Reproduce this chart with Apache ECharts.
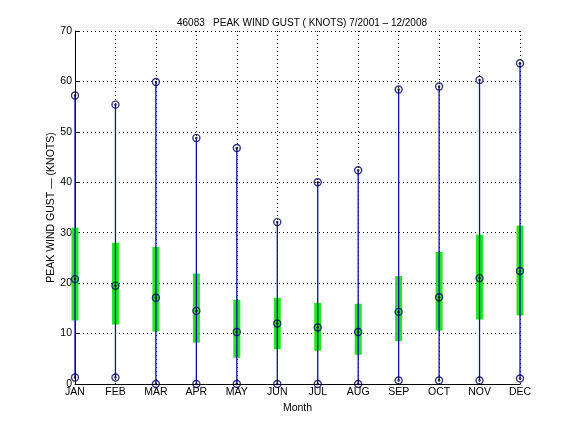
<!DOCTYPE html>
<html>
<head>
<meta charset="utf-8">
<script src="https://cdn.jsdelivr.net/npm/echarts@6/dist/echarts.min.js"></script>
<style>
html,body{margin:0;padding:0;background:#fff;}
#chart{width:576px;height:432px;}
</style>
</head>
<body>
<div id="chart"></div>
<script>
var months = ['JAN','FEB','MAR','APR','MAY','JUN','JUL','AUG','SEP','OCT','NOV','DEC'];
var maxVals = [57.2, 55.4, 59.9, 48.8, 46.8, 32.1, 40.0, 42.4, 58.4, 59.0, 60.3, 63.6];
var minVals = [1.3, 1.3, 0, 0, 0, 0, 0, 0, 0.7, 0.7, 0.7, 1.1];
var meanVals = [20.8, 19.5, 17.1, 14.5, 10.3, 12.0, 11.2, 10.3, 14.3, 17.2, 21.0, 22.4];
var sdLow = [12.6, 11.8, 10.4, 8.2, 5.2, 6.9, 6.6, 5.8, 8.5, 10.6, 12.8, 13.6];
var sdHigh = [31.0, 28.0, 27.2, 21.9, 16.7, 17.1, 16.1, 15.9, 21.4, 26.2, 29.6, 31.4];
var yTicks = [0, 10, 20, 30, 40, 50, 60, 70];

var FONT = 'Liberation Sans, Arial, Helvetica, sans-serif';
var BLUE = '#1010a8';
var NAVY = '#000060';
var GREEN = '#22e622';

var barData = months.map(function(m, i){ return [i, sdLow[i], sdHigh[i]]; });
var rangeData = months.map(function(m, i){ return [i, minVals[i], maxVals[i]]; });
var pts = [];
months.forEach(function(m, i){
  pts.push([i, maxVals[i]]);
  pts.push([i, minVals[i]]);
  pts.push([i, meanVals[i]]);
});

var chart = echarts.init(document.getElementById('chart'), null, {renderer:'canvas'});
chart.setOption({
  animation: false,
  backgroundColor: '#fff',
  title: {
    text: '46083   PEAK WIND GUST ( KNOTS) 7/2001 \u2013 12/2008',
    left: 297, top: 13, textAlign: 'center',
    textStyle: {fontFamily: FONT, fontSize: 10, fontWeight: 'normal', color: '#000'}
  },
  grid: {left: 75, right: 56, top: 31, bottom: 48, containLabel: false},
  xAxis: {
    type: 'category',
    data: months,
    boundaryGap: false,
    name: 'Month',
    nameLocation: 'middle',
    nameGap: 17,
    nameTextStyle: {fontFamily: FONT, fontSize: 10.5, color: '#000'},
    axisLine: {show: true, onZero: false, lineStyle: {color: '#000', width: 1}},
    axisTick: {show: false},
    axisLabel: {fontFamily: FONT, fontSize: 10.5, color: '#000', margin: 3, interval: 0},
    splitLine: {show: true, interval: 0, lineStyle: {color: '#000', width: 1, type: [1, 3]}}
  },
  yAxis: {
    type: 'value',
    min: 0, max: 70, interval: 10,
    name: 'PEAK WIND GUST \u2014 (KNOTS)',
    nameLocation: 'middle',
    nameGap: 18,
    nameMoveOverlap: false,
    nameRotate: 90,
    nameTextStyle: {fontFamily: FONT, fontSize: 10.5, color: '#000'},
    axisLine: {show: true, lineStyle: {color: '#000', width: 1}},
    axisTick: {show: true, inside: true, length: 4, lineStyle: {color: '#000'}},
    axisLabel: {fontFamily: FONT, fontSize: 10.5, color: '#000', margin: 3,
      formatter: function(v){ return yTicks.indexOf(v) >= 0 ? String(v) : ''; }},
    splitLine: {show: true, lineStyle: {color: '#000', width: 1, type: [1, 3]}}
  },
  series: [
    {
      type: 'custom',
      name: 'std',
      data: barData,
      clip: false,
      z: 3,
      renderItem: function(params, api){
        var x = api.value(0);
        var p1 = api.coord([x, api.value(1)]);
        var p2 = api.coord([x, api.value(2)]);
        return {type: 'rect', shape: {x: p1[0] - 3.5, y: p2[1], width: 7, height: p1[1] - p2[1]},
          style: {fill: GREEN}};
      }
    },
    {
      type: 'custom',
      name: 'range',
      data: rangeData,
      clip: false,
      z: 4,
      renderItem: function(params, api){
        var x = api.value(0);
        var p1 = api.coord([x, api.value(1)]);
        var p2 = api.coord([x, api.value(2)]);
        return {type: 'line', shape: {x1: p1[0], y1: p1[1], x2: p2[0], y2: p2[1]},
          style: {stroke: BLUE, lineWidth: 1.3}};
      }
    },
    {
      type: 'scatter',
      data: pts,
      symbol: 'circle',
      symbolSize: 7,
      clip: false,
      z: 5,
      itemStyle: {color: 'rgba(0,0,0,0)', borderColor: NAVY, borderWidth: 1.4}
    },
    {
      type: 'scatter',
      data: pts,
      symbol: 'circle',
      symbolSize: 2.5,
      clip: false,
      z: 6,
      itemStyle: {color: '#000'}
    }
  ]
});
</script>
</body>
</html>
